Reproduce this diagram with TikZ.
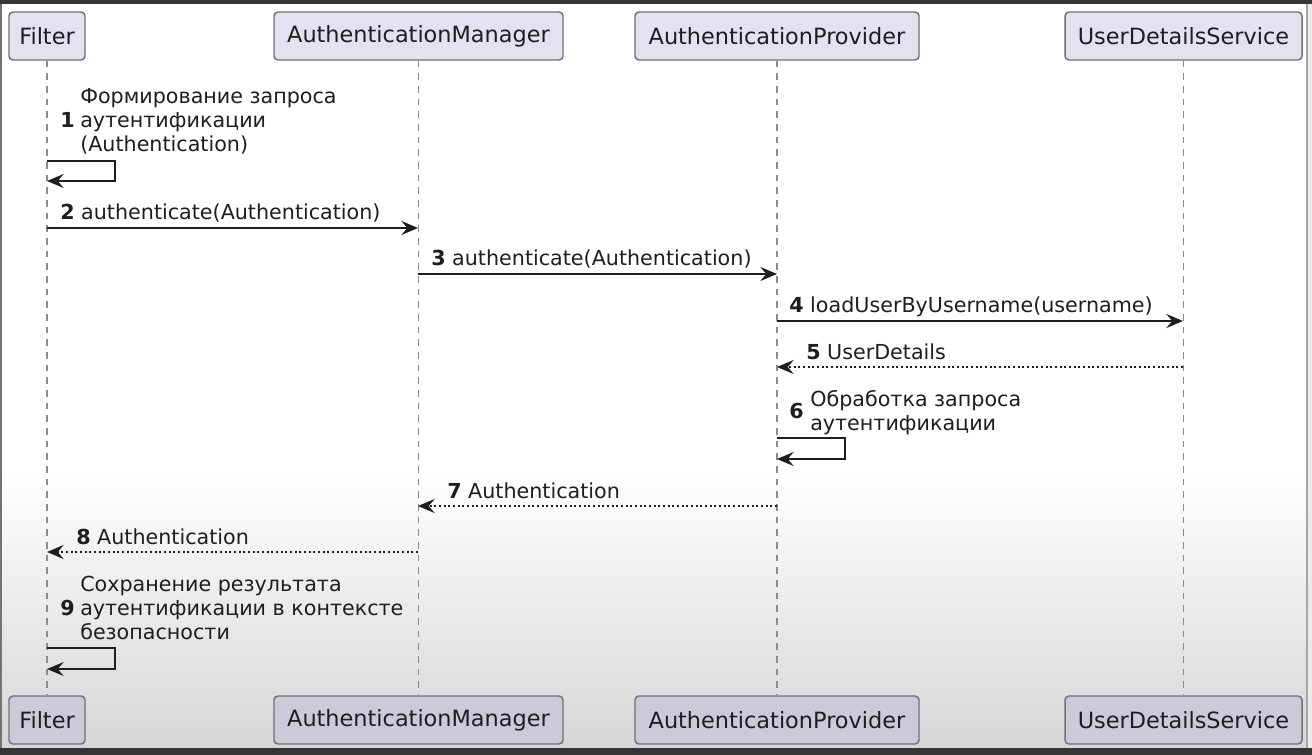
\documentclass[tikz,border=0pt]{standalone}
\usepackage{fontspec}
\setmainfont{DejaVu Sans}
\usetikzlibrary{arrows.meta}
\definecolor{partfill}{HTML}{E2E2F0}
\definecolor{partfillb}{HTML}{CACAD9}
\definecolor{partdraw}{HTML}{707078}
\definecolor{ink}{HTML}{1E1E1E}
\definecolor{lifeline}{HTML}{8C8C8C}
\definecolor{frame}{HTML}{353535}
\tikzset{
 participant/.style={draw=partdraw, line width=1.1pt, rounded corners=3pt, fill=partfill,
   minimum height=36pt, inner sep=0pt, font=\fontsize{16.8pt}{20pt}\selectfont, text=ink},
 partbottom/.style={participant, fill=partfillb},
 lifelinestyle/.style={draw=lifeline, line width=1pt, dash pattern=on 5pt off 4.5pt},
 msg/.style={draw=ink, line width=1.4pt, -{Stealth[length=12.5pt,width=10.5pt,inset=4.5pt]}},
 retmsg/.style={msg, dash pattern=on 1.5pt off 2pt},
 lbl/.style={font=\fontsize{15.5pt}{18pt}\selectfont, text=ink, inner sep=0pt, anchor=base west},
 mlbl/.style={lbl, align=left},
 numlbl/.style={lbl, font=\fontsize{15.5pt}{18pt}\selectfont\bfseries},
}
\begin{document}
\begin{tikzpicture}[x=0.75pt, y=-0.75pt]
\useasboundingbox (0,0) rectangle (1312,755);
% background and screen frame
\fill[white] (0,0) rectangle (1312,755);
\shade[top color=white, bottom color=black!16] (0,470) rectangle (1312,748);
\fill[frame] (0,0) rectangle (1312,4);
\fill[frame] (0,748) rectangle (1312,755);
\fill[black!55] (0,4) rectangle (2,748);
\fill[black!35] (1306,4) rectangle (1308,748);
\fill[black!8] (1308,4) rectangle (1312,748);

% participants
\node[participant, minimum width=57pt] (filterT) at (47,36) {Filter};
\node[participant, minimum width=216.75pt] (amT) at (418.5,36) {AuthenticationManager};
\node[participant, minimum width=213pt] (apT) at (777,36) {AuthenticationProvider};
\node[participant, minimum width=177.75pt] (udsT) at (1183.5,36) {UserDetailsService};
\node[partbottom, minimum width=57pt] (filterB) at (47,720) {Filter};
\node[partbottom, minimum width=216.75pt] (amB) at (418.5,720) {AuthenticationManager};
\node[partbottom, minimum width=213pt] (apB) at (777,720) {AuthenticationProvider};
\node[partbottom, minimum width=177.75pt] (udsB) at (1183.5,720) {UserDetailsService};

% lifelines
\draw[lifelinestyle] (filterT) -- (filterB);
\draw[lifelinestyle] (amT) -- (amB);
\draw[lifelinestyle] (apT) -- (apB);
\draw[lifelinestyle] (udsT) -- (udsB);

% message end points on the lifelines
\coordinate (f1a) at (47,161);  \coordinate (f1b) at (47,181);
\coordinate (f2) at (47,228);   \coordinate (m2) at (418,228);
\coordinate (m3) at (418,274);  \coordinate (p3) at (777,274);
\coordinate (p4) at (777,321);  \coordinate (u4) at (1183,321);
\coordinate (u5) at (1183,367); \coordinate (p5) at (777,367);
\coordinate (p6a) at (777,438); \coordinate (p6b) at (777,459);
\coordinate (p7) at (777,506);  \coordinate (m7) at (418,506);
\coordinate (m8) at (418,552);  \coordinate (f8) at (47,552);
\coordinate (f9a) at (47,648);  \coordinate (f9b) at (47,669);

% 1
\node[numlbl] (n1) at (60,128) {1};
\node[mlbl] (t1) at (80,152) {Формирование запроса\\аутентификации\\(Authentication)};
\draw[msg] (f1a) -- ++(68,0) |- (f1b);
% 2
\node[lbl] (t2) at (60,220) {\textbf{2} authenticate(Authentication)};
\draw[msg] (f2) -- (m2);
% 3
\node[lbl] (t3) at (431,266) {\textbf{3} authenticate(Authentication)};
\draw[msg] (m3) -- (p3);
% 4
\node[lbl] (t4) at (789,313) {\textbf{4} loadUserByUsername(username)};
\draw[msg] (p4) -- (u4);
% 5
\node[lbl] (t5) at (806,359) {\textbf{5} UserDetails};
\draw[retmsg] (u5) -- (p5);
% 6
\node[numlbl] (n6) at (789,418) {6};
\node[mlbl] (t6) at (810,430) {Обработка запроса\\аутентификации};
\draw[msg] (p6a) -- ++(68,0) |- (p6b);
% 7
\node[lbl] (t7) at (447,498) {\textbf{7} Authentication};
\draw[retmsg] (p7) -- (m7);
% 8
\node[lbl] (t8) at (76,544) {\textbf{8} Authentication};
\draw[retmsg] (m8) -- (f8);
% 9
\node[numlbl] (n9) at (60,615) {9};
\node[mlbl] (t9) at (80,639) {Сохранение результата\\аутентификации в контексте\\безопасности};
\draw[msg] (f9a) -- ++(68,0) |- (f9b);
\end{tikzpicture}
\end{document}
